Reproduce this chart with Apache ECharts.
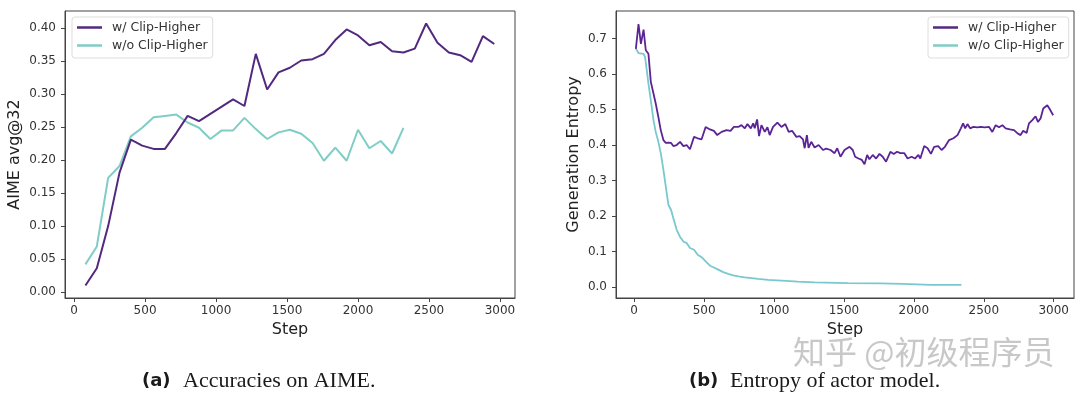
<!DOCTYPE html>
<html>
<head>
<meta charset="utf-8">
<script src="https://cdn.jsdelivr.net/npm/echarts@6/dist/echarts.min.js"></script>
<style>
  html, body { margin: 0; padding: 0; background: #fff; }
  #chart { width: 1080px; height: 397px; }
</style>
</head>
<body>
<div id="chart"></div>
<script>
// (a) accuracy on AIME, evaluated every 80 steps
const aimeStepsWith = [80, 160, 240, 320, 400, 480, 560, 640, 720, 800, 880, 960, 1040, 1120, 1200, 1280, 1360, 1440, 1520,
  1600, 1680, 1760, 1840, 1920, 2000, 2080, 2160, 2240, 2320, 2400, 2480, 2560, 2640, 2720, 2800, 2880, 2960]
const aimeWith = [0.010, 0.036, 0.100, 0.181, 0.231, 0.222, 0.217, 0.217, 0.241, 0.267, 0.259, 0.270, 0.281, 0.292, 0.282, 0.361, 0.307, 0.333, 0.340,
  0.351, 0.353, 0.361, 0.382, 0.398, 0.389, 0.374, 0.379, 0.365, 0.363, 0.369, 0.407, 0.378, 0.363, 0.359, 0.349, 0.388, 0.376]
const aimeStepsWithout = [80, 160, 240, 320, 400, 480, 560, 640, 720, 800, 880, 960, 1040, 1120, 1200, 1280, 1360, 1440, 1520,
  1600, 1680, 1760, 1840, 1920, 2000, 2080, 2160, 2240, 2320]
const aimeWithout = [0.042, 0.069, 0.173, 0.191, 0.236, 0.249, 0.265, 0.267, 0.269, 0.257, 0.249, 0.232, 0.245, 0.245, 0.264, 0.247, 0.232, 0.242, 0.246,
  0.240, 0.226, 0.199, 0.219, 0.199, 0.246, 0.218, 0.229, 0.210, 0.249]

// (b) generation entropy, [step, entropy]
const entropyWith = [
  [12, 0.671], [31, 0.741], [48, 0.685], [67, 0.725], [83, 0.667], [102, 0.657], [119, 0.578], [138, 0.545], [154, 0.517], [173, 0.479],
  [190, 0.442], [209, 0.414], [226, 0.406], [245, 0.407], [264, 0.406], [280, 0.397], [304, 0.400], [328, 0.409], [352, 0.397], [375, 0.400],
  [399, 0.388], [428, 0.423], [454, 0.419], [482, 0.416], [511, 0.451], [542, 0.444], [570, 0.440], [594, 0.428], [625, 0.437], [660, 0.442],
  [689, 0.440], [713, 0.451], [744, 0.451], [767, 0.456], [791, 0.447], [810, 0.459], [834, 0.447], [851, 0.461], [862, 0.447], [879, 0.472],
  [893, 0.425], [910, 0.456], [934, 0.437], [953, 0.450], [969, 0.428], [993, 0.451], [1024, 0.463], [1053, 0.451], [1081, 0.459], [1105, 0.437],
  [1129, 0.440], [1160, 0.423], [1183, 0.425], [1207, 0.416], [1219, 0.391], [1235, 0.428], [1247, 0.392], [1266, 0.409], [1290, 0.393], [1319, 0.400],
  [1350, 0.386], [1373, 0.390], [1404, 0.386], [1433, 0.377], [1452, 0.391], [1475, 0.367], [1504, 0.386], [1540, 0.395], [1563, 0.386], [1580, 0.367],
  [1604, 0.362], [1628, 0.358], [1647, 0.346], [1666, 0.372], [1682, 0.360], [1706, 0.372], [1730, 0.362], [1754, 0.375], [1777, 0.367], [1801, 0.353],
  [1832, 0.381], [1856, 0.375], [1880, 0.381], [1903, 0.377], [1932, 0.377], [1955, 0.362], [1984, 0.367], [2008, 0.362], [2032, 0.372], [2046, 0.362],
  [2074, 0.397], [2098, 0.391], [2122, 0.375], [2145, 0.395], [2174, 0.397], [2198, 0.386], [2222, 0.395], [2252, 0.414], [2283, 0.419], [2312, 0.428],
  [2336, 0.447], [2352, 0.461], [2367, 0.447], [2383, 0.459], [2402, 0.447], [2426, 0.451], [2454, 0.450], [2478, 0.451], [2507, 0.450], [2538, 0.451],
  [2561, 0.437], [2585, 0.456], [2609, 0.450], [2633, 0.456], [2656, 0.447], [2687, 0.444], [2716, 0.442], [2744, 0.432], [2763, 0.428], [2782, 0.440],
  [2806, 0.434], [2823, 0.461], [2847, 0.470], [2870, 0.481], [2887, 0.465], [2906, 0.475], [2925, 0.503], [2954, 0.512], [2973, 0.500], [2996, 0.484]
]
const entropyWithout = [
  [12, 0.671], [31, 0.659], [67, 0.657], [78, 0.648], [90, 0.610], [102, 0.573], [119, 0.526], [138, 0.470], [154, 0.437], [173, 0.409],
  [190, 0.377], [209, 0.330], [226, 0.283], [245, 0.231], [264, 0.217], [280, 0.194], [304, 0.161], [328, 0.141], [352, 0.128], [375, 0.124],
  [399, 0.110], [428, 0.105], [454, 0.091], [482, 0.084], [511, 0.072], [542, 0.060], [570, 0.055], [601, 0.049], [637, 0.042], [672, 0.037],
  [708, 0.033], [744, 0.030], [791, 0.027], [839, 0.025], [886, 0.023], [958, 0.020], [1053, 0.018], [1171, 0.015], [1290, 0.013], [1528, 0.011],
  [1765, 0.010], [1920, 0.009], [1932, 0.007], [2122, 0.006], [2340, 0.006]
]

const stepTicks = [0, 500, 1000, 1500, 2000, 2500, 3000]
const aimeTicks = [0, 0.05, 0.10, 0.15, 0.20, 0.25, 0.30, 0.35, 0.40]
const entropyTicks = [0, 0.1, 0.2, 0.3, 0.4, 0.5, 0.6, 0.7]

const seriesNames = ['w/ Clip-Higher', 'w/o Clip-Higher']
const purple = '#52297f'
const cyan = '#80cdc6'

const font = 'DejaVu Sans'
const frameColor = '#444'

function xAxisFor(gridIndex, min, max) {
  return {
    gridIndex,
    type: 'value',
    min,
    max,
    name: 'Step',
    nameLocation: 'middle',
    nameGap: 24,
    nameTextStyle: { fontFamily: font, fontSize: 16, color: '#222' },
    axisLine: { show: true, onZero: false, lineStyle: { color: frameColor } },
    axisTick: { show: true, length: 4, customValues: stepTicks, lineStyle: { color: frameColor } },
    axisLabel: {
      customValues: stepTicks,
      margin: 7,
      fontFamily: font,
      fontSize: 12,
      color: '#333',
      formatter: (v) => String(Math.round(v))
    },
    splitLine: { show: false }
  }
}

function yAxisFor(gridIndex, min, max, ticks, digits, name, gap) {
  return {
    gridIndex,
    type: 'value',
    min,
    max,
    name,
    nameLocation: 'middle',
    nameGap: gap,
    nameTextStyle: { fontFamily: font, fontSize: 16, color: '#222' },
    axisLine: { show: true, onZero: false, lineStyle: { color: frameColor } },
    axisTick: { show: true, length: 4, customValues: ticks, lineStyle: { color: frameColor } },
    axisLabel: {
      customValues: ticks,
      margin: 9,
      fontFamily: font,
      fontSize: 12,
      color: '#333',
      formatter: (v) => Number(v).toFixed(digits)
    },
    splitLine: { show: false }
  }
}

function legendAt(left) {
  return {
    left,
    top: 17,
    orient: 'vertical',
    data: seriesNames,
    icon: 'rect',
    itemWidth: 25,
    itemHeight: 2.5,
    itemGap: 3,
    padding: [3, 5, 5, 5],
    backgroundColor: '#fff',
    borderColor: '#ddd',
    borderWidth: 1,
    borderRadius: 3,
    textStyle: { fontFamily: font, fontSize: 12.5, color: '#333', lineHeight: 15, padding: [0, 0, 0, 5] }
  }
}

function lineSeries(name, data, color, idx, width) {
  return {
    name,
    type: 'line',
    xAxisIndex: idx,
    yAxisIndex: idx,
    data,
    symbol: 'none',
    showSymbol: false,
    lineStyle: { color, width },
    itemStyle: { color },
    z: name === seriesNames[0] ? 3 : 2
  }
}

const chart = echarts.init(document.getElementById('chart'))
chart.setOption({
  animation: false,
  backgroundColor: '#fff',
  grid: [
    { left: 65, top: 11, width: 450, height: 287, show: true, borderColor: frameColor, borderWidth: 1 },
    { left: 616, top: 11, width: 458, height: 287, show: true, borderColor: frameColor, borderWidth: 1 }
  ],
  xAxis: [
    xAxisFor(0, -64, 3106),
    xAxisFor(1, -130, 3145)
  ],
  yAxis: [
    yAxisFor(0, -0.009, 0.426, aimeTicks, 2, 'AIME avg@32', 42),
    yAxisFor(1, -0.031, 0.7776, entropyTicks, 1, 'Generation Entropy', 34)
  ],
  legend: [legendAt(72), legendAt(928)],
  series: [
    lineSeries(seriesNames[0], aimeStepsWith.map((s, i) => [s, aimeWith[i]]), purple, 0, 2),
    lineSeries(seriesNames[1], aimeStepsWithout.map((s, i) => [s, aimeWithout[i]]), cyan, 0, 2),
    lineSeries(seriesNames[0], entropyWith, '#5a2494', 1, 1.8),
    lineSeries(seriesNames[1], entropyWithout, '#78c9ce', 1, 1.8)
  ],
  graphic: [
    { type: 'text', x: 142, y: 381, style: { text: '(a)', font: 'bold 18px "DejaVu Sans"', fill: '#1a1a1a', verticalAlign: 'middle' } },
    { type: 'text', x: 183, y: 381, style: { text: 'Accuracies on AIME.', font: '22px "Liberation Serif"', fill: '#1a1a1a', verticalAlign: 'middle' } },
    { type: 'text', x: 689, y: 381, style: { text: '(b)', font: 'bold 18px "DejaVu Sans"', fill: '#1a1a1a', verticalAlign: 'middle' } },
    { type: 'text', x: 730, y: 381, style: { text: 'Entropy of actor model.', font: '22px "Liberation Serif"', fill: '#1a1a1a', verticalAlign: 'middle' } },
    { type: 'text', x: 793, y: 352, z: 100, style: { text: '知乎 @初级程序员', font: '32px "Noto Sans CJK SC"', fill: '#c8c8c8', verticalAlign: 'middle' } }
  ]
})
</script>
</body>
</html>
